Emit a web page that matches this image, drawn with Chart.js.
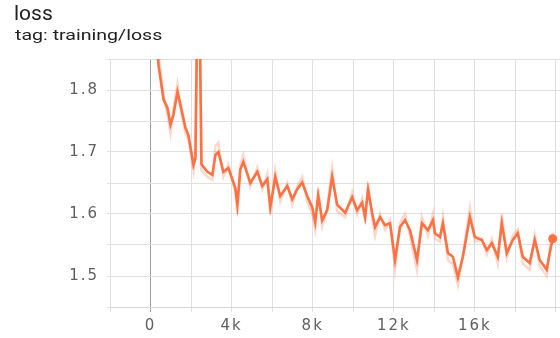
<!DOCTYPE html>
<html>
<head>
<meta charset="utf-8">
<script src="https://cdn.jsdelivr.net/npm/chart.js@4/dist/chart.umd.min.js"></script>
<style>
  body { margin: 0; background: #fff; font-family: Roboto, sans-serif; }
  #wrap { position: relative; width: 560px; height: 338px; overflow: hidden; }
  #chart { position: absolute; left: 0; top: 0; }
  .title { position: absolute; left: 14px; top: 1px; font-size: 21px; color: #212121; }
  .tag { position: absolute; left: 15px; top: 27px; font-size: 14.5px; color: #212121;
         transform: scaleX(1.35); transform-origin: left top; white-space: nowrap; }
</style>
</head>
<body>
<div id="wrap">
  <canvas id="chart" width="560" height="338"></canvas>
  <div class="title">loss</div>
  <div class="tag">tag: training/loss</div>
</div>
<script>
// Steps
const steps = [98, 394, 640, 837, 985, 1132, 1329, 1477, 1723, 1871, 2117, 2215, 2314, 2412, 2511,
  2806, 3052, 3200, 3348, 3594, 3840, 4185, 4283, 4431, 4578, 4923, 5268, 5514, 5760, 5908,
  6154, 6400, 6745, 6991, 7237, 7483, 7729, 7975, 8123, 8271, 8468, 8714, 8960, 9206, 9600,
  9945, 10191, 10437, 10585, 10732, 10929, 11077, 11323, 11569, 11815, 12061, 12308, 12554, 12800, 13144,
  13390, 13686, 13932, 14031, 14277, 14424, 14671, 14917, 15163, 15409, 15754, 16000, 16344, 16590, 16837,
  17132, 17329, 17575, 17870, 18117, 18363, 18707, 18954, 19200, 19544, 19692, 19840];

// Smoothed loss (the bold line)
const smoothedLoss = [1.98, 1.84, 1.785, 1.771, 1.744, 1.76, 1.797, 1.776, 1.739, 1.727, 1.679, 1.69, 1.95, 1.95, 1.68,
  1.668, 1.663, 1.695, 1.70, 1.668, 1.674, 1.642, 1.615, 1.672, 1.684, 1.65, 1.668, 1.645, 1.656, 1.611,
  1.66, 1.629, 1.645, 1.624, 1.64, 1.651, 1.629, 1.611, 1.587, 1.63, 1.59, 1.606, 1.66, 1.615, 1.602,
  1.627, 1.606, 1.618, 1.595, 1.639, 1.602, 1.579, 1.595, 1.582, 1.585, 1.526, 1.579, 1.59, 1.574, 1.526,
  1.585, 1.574, 1.59, 1.569, 1.563, 1.585, 1.537, 1.531, 1.498, 1.531, 1.595, 1.563, 1.558, 1.542, 1.553,
  1.531, 1.585, 1.537, 1.558, 1.569, 1.531, 1.521, 1.558, 1.526, 1.51, 1.537, 1.56];

// Raw loss (the faint line behind)
const rawLoss = [2.0, 1.86, 1.79, 1.76, 1.73, 1.77, 1.81, 1.77, 1.73, 1.72, 1.67, 1.70, 1.98, 1.96, 1.67,
  1.66, 1.655, 1.71, 1.715, 1.66, 1.68, 1.635, 1.60, 1.68, 1.695, 1.645, 1.675, 1.64, 1.665, 1.60,
  1.67, 1.62, 1.65, 1.615, 1.645, 1.66, 1.62, 1.60, 1.575, 1.64, 1.58, 1.61, 1.675, 1.605, 1.595,
  1.635, 1.60, 1.625, 1.585, 1.65, 1.595, 1.565, 1.60, 1.575, 1.59, 1.51, 1.585, 1.60, 1.565, 1.51,
  1.595, 1.565, 1.60, 1.56, 1.555, 1.595, 1.525, 1.52, 1.485, 1.535, 1.61, 1.555, 1.56, 1.535, 1.56,
  1.52, 1.60, 1.53, 1.565, 1.575, 1.52, 1.51, 1.565, 1.515, 1.50, 1.545, 1.57];

// Tick labels shown on the axes
const xTickLabels = [0, 4000, 8000, 12000, 16000];
const yTickLabels = [1.5, 1.6, 1.7, 1.8];

const toPoints = (ys) => steps.map((s, i) => ({ x: s, y: ys[i] }));

// the tick text in the screenshot is drawn wide
const wideText = {
    id: 'wideText',
    beforeDraw: chart => { chart.ctx.letterSpacing = '2px'; }
};

const tickFont = { family: "'DejaVu Sans'", size: 15 };

const ctx = document.getElementById('chart').getContext('2d');
new Chart(ctx, {
    type: 'line',
    plugins: [wideText],
    data: {
        datasets: [{
            label: 'smoothed',
            data: toPoints(smoothedLoss),
            borderColor: '#ff7043',
            backgroundColor: '#ff7043',
            borderWidth: 2.6,
            tension: 0,
            pointRadius: c => c.dataIndex === steps.length - 1 ? 4.5 : 0,
            pointBorderWidth: 0
        }, {
            label: 'raw',
            data: toPoints(rawLoss),
            borderColor: 'rgba(255, 112, 67, 0.28)',
            borderWidth: 2.5,
            tension: 0,
            pointRadius: 0
        }]
    },
    options: {
        responsive: false,
        animation: false,
        layout: { autoPadding: false, padding: { top: 59, left: 0, right: 0, bottom: 0 } },
        plugins: { legend: { display: false }, tooltip: { enabled: false } },
        scales: {
            x: {
                type: 'linear',
                min: -2000,
                max: 20200,
                // grid every 2k, labels only every 4k
                afterBuildTicks: s => {
                    const t = [];
                    for (let v = -2000; v <= 20000; v += 2000) t.push({ value: v });
                    s.ticks = t;
                },
                afterFit: s => { s.height = 31; s.paddingLeft = 0; s.paddingRight = 0; },
                border: { color: '#d6d6d6' },
                grid: {
                    color: c => c.tick && c.tick.value === 0 ? '#9e9e9e' : '#e0e0e0',
                    tickLength: 5
                },
                ticks: {
                    autoSkip: false,
                    maxRotation: 0,
                    padding: 5,
                    color: '#5f5f5f',
                    font: tickFont,
                    callback: v => xTickLabels.includes(v) ? (v === 0 ? '0' : (v / 1000) + 'k') : ''
                }
            },
            y: {
                min: 1.45,
                max: 1.85,
                afterFit: s => { s.width = 110; },
                border: { color: '#e0e0e0' },
                grid: { color: '#e0e0e0', tickLength: 3 },
                ticks: {
                    stepSize: 0.05,
                    autoSkip: false,
                    padding: 8,
                    color: '#5f5f5f',
                    font: tickFont,
                    callback: v => {
                        const hit = yTickLabels.find(t => Math.abs(t - v) < 1e-6);
                        return hit !== undefined ? hit.toFixed(1) : '';
                    }
                }
            }
        }
    }
});
</script>
</body>
</html>
